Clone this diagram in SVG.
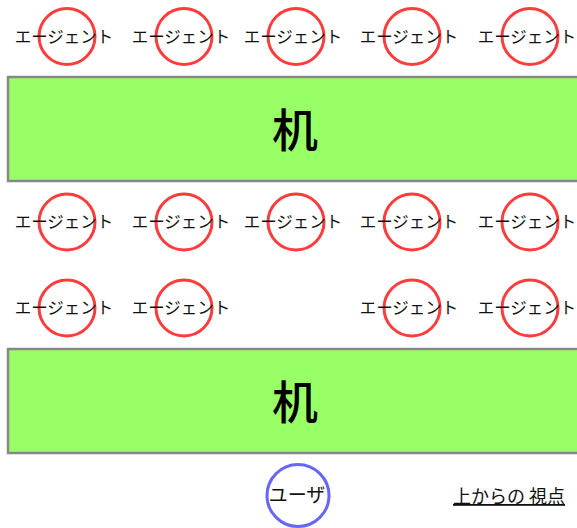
<svg xmlns="http://www.w3.org/2000/svg" width="577" height="528" viewBox="0 0 577 528">
<style>
.agent circle{fill:none;stroke:#ff3c3c;stroke-width:3}
.agent text{font-family:"Noto Sans CJK JP","Noto Sans",sans-serif;font-size:16.5px;fill:#111;text-anchor:middle}
.desk rect{fill:#99ff66;stroke:#888;stroke-width:2.5}
.desk text{font-family:"Noto Sans CJK JP",sans-serif;font-size:46px;font-weight:500;fill:#000;text-anchor:middle}
.user circle{fill:none;stroke:#6666ff;stroke-width:3}
.lbl{font-family:"Noto Sans CJK JP","Noto Sans",sans-serif;fill:#111}
</style>
<rect width="577" height="528" fill="#fff"/>
<g id="desk1" class="desk"><rect x="8" y="77" width="575" height="104"/><text x="295" y="147">机</text></g>
<g id="desk2" class="desk"><rect x="8" y="349" width="575" height="104"/><text x="295" y="419">机</text></g>
<g id="agent-1-1" class="agent"><circle cx="67" cy="36.5" r="28"/><text x="64" y="43">エージェント</text></g>
<g id="agent-1-2" class="agent"><circle cx="184" cy="36.5" r="28"/><text x="181" y="43">エージェント</text></g>
<g id="agent-1-3" class="agent"><circle cx="296" cy="36.5" r="28"/><text x="293" y="43">エージェント</text></g>
<g id="agent-1-4" class="agent"><circle cx="412" cy="36.5" r="28"/><text x="409" y="43">エージェント</text></g>
<g id="agent-1-5" class="agent"><circle cx="530" cy="36.5" r="28"/><text x="527" y="43">エージェント</text></g>
<g id="agent-2-1" class="agent"><circle cx="67" cy="222" r="28"/><text x="64" y="228">エージェント</text></g>
<g id="agent-2-2" class="agent"><circle cx="184" cy="222" r="28"/><text x="181" y="228">エージェント</text></g>
<g id="agent-2-3" class="agent"><circle cx="296" cy="222" r="28"/><text x="293" y="228">エージェント</text></g>
<g id="agent-2-4" class="agent"><circle cx="412" cy="222" r="28"/><text x="409" y="228">エージェント</text></g>
<g id="agent-2-5" class="agent"><circle cx="530" cy="222" r="28"/><text x="527" y="228">エージェント</text></g>
<g id="agent-3-1" class="agent"><circle cx="67" cy="308" r="28"/><text x="64" y="314">エージェント</text></g>
<g id="agent-3-2" class="agent"><circle cx="184" cy="308" r="28"/><text x="181" y="314">エージェント</text></g>
<g id="agent-3-4" class="agent"><circle cx="412" cy="308" r="28"/><text x="409" y="314">エージェント</text></g>
<g id="agent-3-5" class="agent"><circle cx="530" cy="308" r="28"/><text x="527" y="314">エージェント</text></g>
<g id="user" class="user"><circle cx="298" cy="495.5" r="31"/><text class="lbl" x="297" y="502" font-size="19" text-anchor="middle">ユーザ</text></g>
<g id="caption"><text class="lbl" x="453" y="503" font-size="18" text-decoration="underline">上からの 視点</text></g>
<g id="connectors"></g>
</svg>
